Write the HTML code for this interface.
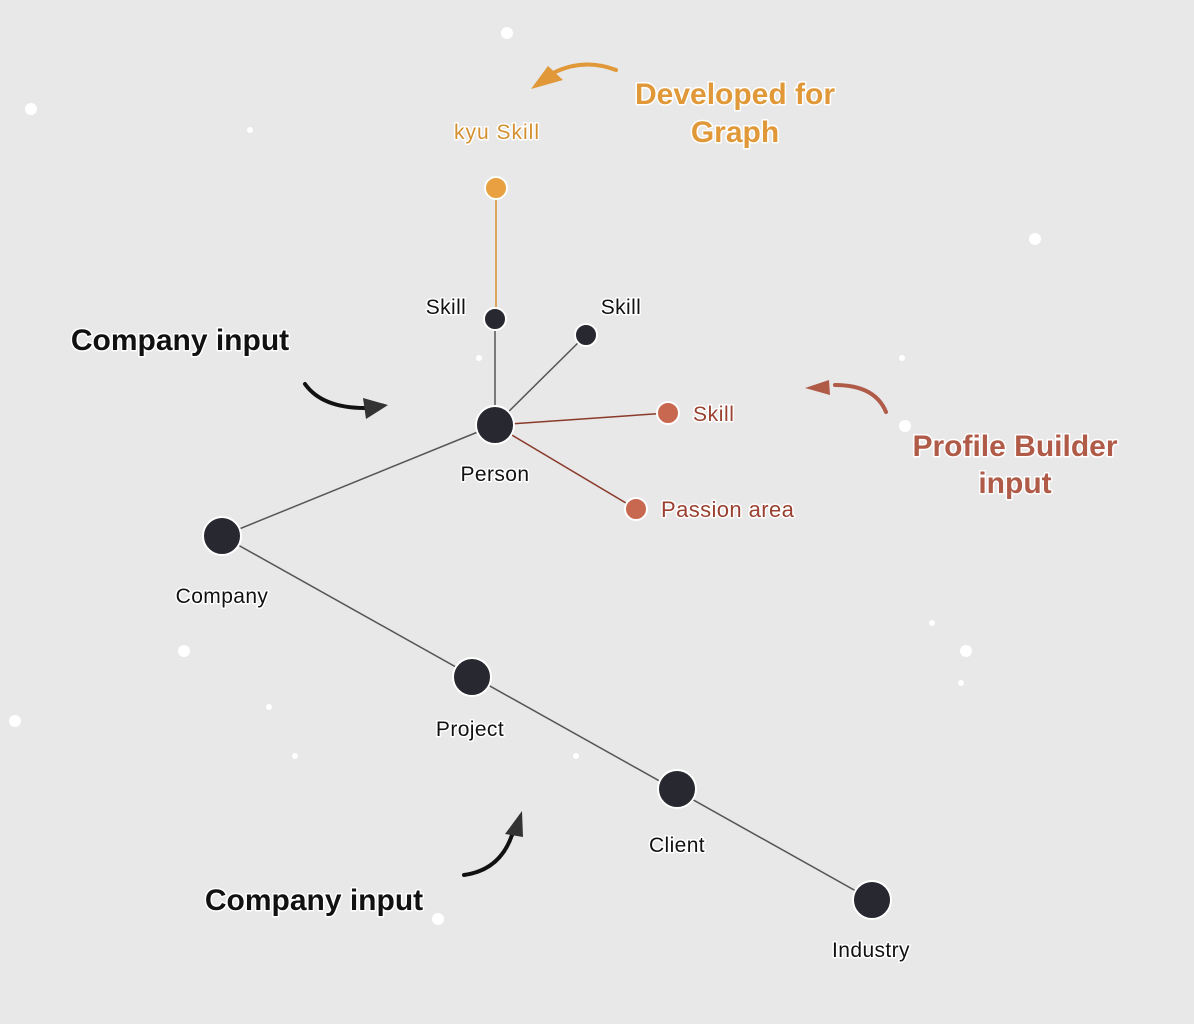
<!DOCTYPE html>
<html><head><meta charset="utf-8"><style>
html,body{margin:0;padding:0;background:#e8e8e8;}
svg{display:block}
text{font-family:"Liberation Sans",sans-serif;paint-order:stroke;stroke:#fff;stroke-width:3px;stroke-linejoin:round}
</style></head><body>
<svg width="1194" height="1024" viewBox="0 0 1194 1024" xmlns="http://www.w3.org/2000/svg">
<rect width="1194" height="1024" fill="#e8e8e8"/>
<g fill="#fff">
<circle cx="507" cy="33" r="6"/><circle cx="31" cy="109" r="6"/><circle cx="250" cy="130" r="3"/>
<circle cx="1035" cy="239" r="6"/><circle cx="902" cy="358" r="3"/><circle cx="905" cy="426" r="6"/>
<circle cx="479" cy="358" r="3"/><circle cx="932" cy="623" r="3"/><circle cx="966" cy="651" r="6"/>
<circle cx="961" cy="683" r="3"/><circle cx="184" cy="651" r="6"/><circle cx="269" cy="707" r="3"/>
<circle cx="15" cy="721" r="6"/><circle cx="295" cy="756" r="3"/><circle cx="576" cy="756" r="3"/>
<circle cx="438" cy="919" r="6"/>
</g>
<g stroke="#555" stroke-width="1.5">
<line x1="495" y1="425" x2="495" y2="319"/>
<line x1="495" y1="425" x2="586" y2="335"/>
<line x1="495" y1="425" x2="222" y2="536"/>
<line x1="222" y1="536" x2="872" y2="900"/>
</g>
<line x1="496" y1="188" x2="496" y2="319" stroke="#d89030" stroke-width="1.5"/>
<line x1="495" y1="425" x2="668" y2="413" stroke="#8a3a2a" stroke-width="1.5"/>
<line x1="495" y1="425" x2="636" y2="509" stroke="#8a3a2a" stroke-width="1.5"/>
<g stroke="#fff" stroke-width="2" fill="#272830">
<circle cx="495" cy="425" r="19"/><circle cx="222" cy="536" r="19"/>
<circle cx="472" cy="677" r="19"/><circle cx="677" cy="789" r="19"/>
<circle cx="872" cy="900" r="19"/>
<circle cx="495" cy="319" r="11"/><circle cx="586" cy="335" r="11"/>
</g>
<circle cx="496" cy="188" r="11" fill="#e8a040" stroke="#fff" stroke-width="2"/>
<circle cx="668" cy="413" r="11" fill="#c86850" stroke="#fff" stroke-width="2"/>
<circle cx="636" cy="509" r="11" fill="#c86850" stroke="#fff" stroke-width="2"/>
<g font-size="21" fill="#111" letter-spacing="0.4">
<text x="495" y="481" text-anchor="middle">Person</text>
<text x="222" y="603" text-anchor="middle">Company</text>
<text x="470" y="736" text-anchor="middle">Project</text>
<text x="677" y="852" text-anchor="middle">Client</text>
<text x="871" y="957" text-anchor="middle">Industry</text>
<text x="446" y="314" text-anchor="middle">Skill</text>
<text x="621" y="314" text-anchor="middle">Skill</text>
</g>
<text x="497" y="139" font-size="21" letter-spacing="1" fill="#d49030" text-anchor="middle">kyu Skill</text>
<text x="693" y="421" font-size="21" letter-spacing="0.6" fill="#9a4030">Skill</text>
<text x="661" y="517" font-size="22" letter-spacing="0.4" fill="#9a4030">Passion area</text>
<g font-weight="bold" font-size="30">
<text x="180" y="350" text-anchor="middle" fill="#111">Company input</text>
<text x="314" y="910" text-anchor="middle" fill="#111">Company input</text>
<text x="735" y="104" text-anchor="middle" fill="#e09838">Developed for</text>
<text x="735" y="142" text-anchor="middle" fill="#e09838">Graph</text>
<text x="1015" y="456" text-anchor="middle" fill="#b05a48">Profile Builder</text>
<text x="1015" y="493" text-anchor="middle" fill="#b05a48">input</text>
</g>
<g stroke-width="4" fill="none" stroke-linecap="round">
<path d="M616 70 Q585 58 555 72" stroke="#e09838"/>
<path d="M305 384 Q322 408 365 408" stroke="#111"/>
<path d="M464 875 Q500 870 512 835" stroke="#111"/>
<path d="M886 412 Q875 385 835 385" stroke="#b05a48"/>
</g>
<polygon points="531,89 548,66 563,80" fill="#e09838"/>
<polygon points="363,398 388,405 366,419" fill="#333"/>
<polygon points="505,834 522,811 523,837" fill="#333"/>
<polygon points="829,380 805,388 830,395" fill="#b05a48"/>
</svg>
</body></html>
